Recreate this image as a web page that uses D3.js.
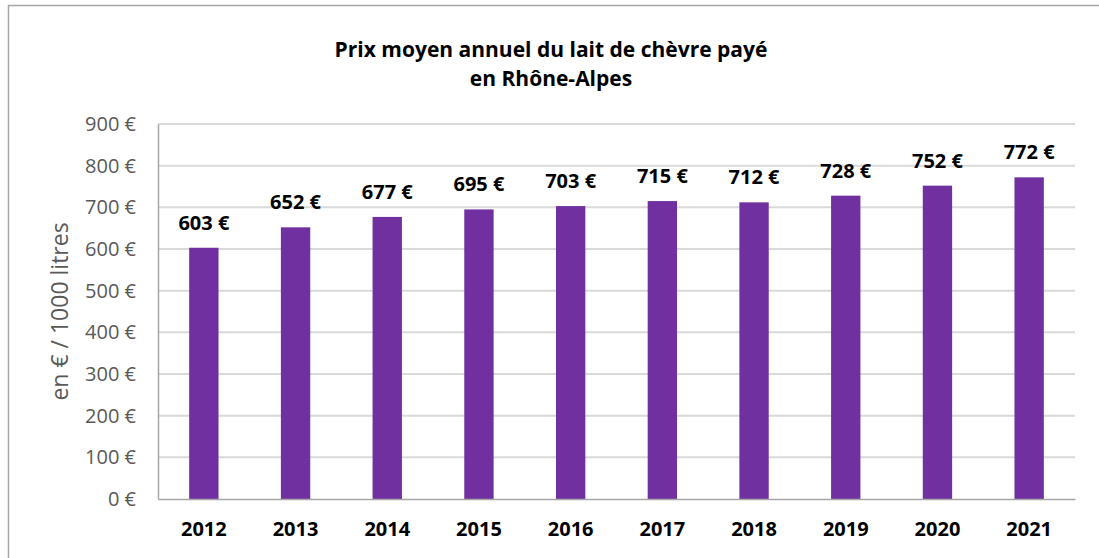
<!DOCTYPE html>
<html>
<head>
<meta charset="utf-8">
<script src="https://cdn.jsdelivr.net/npm/d3@7"></script>
<style>
  body { margin: 0; background: #fff; }
  text { font-family: "Open Sans", Lato, sans-serif; }
</style>
</head>
<body>
<div id="chart"></div>
<script>
// data
const years = ["2012", "2013", "2014", "2015", "2016", "2017", "2018", "2019", "2020", "2021"];
const prices = [603, 652, 677, 695, 703, 715, 712, 728, 752, 772];
const yTicks = [0, 100, 200, 300, 400, 500, 600, 700, 800, 900];
const titleLines = ["Prix moyen annuel du lait de chèvre payé", "en Rhône-Alpes"];

const W = 1099, H = 558;
const m = {left: 158, right: 24, top: 124, bottom: 59};

let svg = d3.select("#chart").append("svg")
  .attr("width", W).attr("height", H);

// chart frame
svg.append("rect")
  .attr("x", 8.5).attr("y", 5.5)
  .attr("width", W + 20).attr("height", H + 20)
  .attr("fill", "#fff").attr("stroke", "#a6a6a6").attr("stroke-width", 1.5);

let x = d3.scaleBand()
  .domain(years)
  .range([m.left, W - m.right])
  .paddingInner(0.68).paddingOuter(0.34);

let y = d3.scaleLinear()
  .domain([0, 900])
  .range([H - m.bottom, m.top]);

// gridlines
svg.append("g")
  .selectAll("line")
  .data(yTicks.slice(1))
  .join("line")
  .attr("x1", m.left).attr("x2", W - m.right)
  .attr("y1", d => y(d)).attr("y2", d => y(d))
  .attr("stroke", "#d9d9d9").attr("stroke-width", 2);

// y axis
let yAxis = svg.append("g")
  .attr("transform", `translate(${m.left},0)`)
  .call(d3.axisLeft(y).tickValues(yTicks).tickSize(0).tickPadding(22)
    .tickFormat(d => d + " €"));
yAxis.select(".domain").attr("stroke", "#a6a6a6").attr("stroke-width", 1.5);
yAxis.selectAll("text")
  .attr("fill", "#595959").style("font-size", "20px");

// bars
svg.append("g")
  .selectAll("rect")
  .data(prices)
  .join("rect")
  .attr("x", (d, i) => x(years[i]))
  .attr("y", d => y(d))
  .attr("width", x.bandwidth())
  .attr("height", d => y(0) - y(d))
  .attr("fill", "#7030a0");

// value labels
svg.append("g")
  .selectAll("text")
  .data(prices)
  .join("text")
  .attr("x", (d, i) => x(years[i]) + x.bandwidth() / 2)
  .attr("y", d => y(d) - 18)
  .attr("text-anchor", "middle")
  .style("font-size", "20px").style("font-weight", "bold")
  .attr("fill", "#000")
  .text(d => d + " €");

// x axis
let xAxis = svg.append("g")
  .attr("transform", `translate(0,${y(0)})`)
  .call(d3.axisBottom(x).tickSize(0).tickPadding(23));
xAxis.select(".domain").attr("stroke", "#a6a6a6").attr("stroke-width", 1.5);
xAxis.selectAll("text")
  .attr("fill", "#000").style("font-size", "20px").style("font-weight", "bold");

// y title
svg.append("text")
  .attr("transform", `translate(68,${(y(0) + y(900)) / 2}) rotate(-90)`)
  .attr("text-anchor", "middle")
  .attr("fill", "#595959")
  .style("font-size", "23px")
  .text("en € / 1000 litres");

// title
svg.append("g")
  .selectAll("text")
  .data(titleLines)
  .join("text")
  .attr("x", 551)
  .attr("y", (d, i) => 57 + i * 29)
  .attr("text-anchor", "middle")
  .style("font-size", "21px").style("font-weight", "bold")
  .attr("fill", "#000")
  .text(d => d);
</script>
</body>
</html>
